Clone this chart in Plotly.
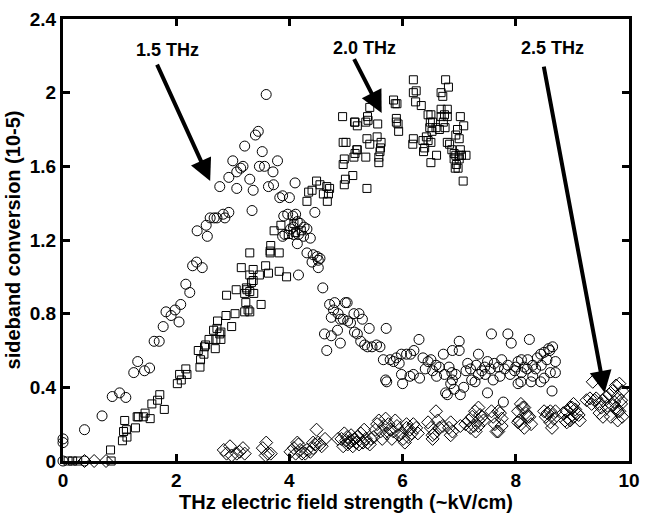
import plotly.graph_objects as go

# ---- data: 1.5 THz (circles) ----
c15 = [
(0,0.0),(0,0.1),(0,0.12),(0.38,0.0),(0.38,0.17),(0.69,0.245),(0.87,0.35),(1.0,0.37),(1.11,0.345),
(1.25,0.48),(1.32,0.54),(1.44,0.49),(1.53,0.505),(1.61,0.65),(1.70,0.65),(1.77,0.73),(1.82,0.81),
(1.91,0.79),(1.98,0.82),(2.05,0.755),(2.08,0.85),(2.17,0.96),(2.24,0.915),(2.29,1.06),(2.36,1.08),(2.46,1.05),
(2.37,1.25),(2.53,1.28),(2.55,1.22),(2.6,1.32),(2.67,1.32),(2.72,1.32),(2.83,1.34),(2.86,1.32),(2.93,1.35),
(2.77,1.49),(2.93,1.54),(3.0,1.63),(3.07,1.57),(3.14,1.59),(3.18,1.6),(3.21,1.71),(3.07,1.48),(3.3,1.53),
(3.36,1.47),(3.4,1.77),(3.45,1.79),(3.52,1.68),(3.47,1.6),(3.56,1.6),(3.59,1.99),(3.71,1.57),(3.79,1.63),
(3.63,1.49),(3.72,1.5),(3.83,1.43),(3.88,1.44),(4.0,1.43),(4.1,1.51),(3.34,1.36),
(3.9,1.33),(3.97,1.34),(4.06,1.33),(4.11,1.34),(4.14,1.3),(4.19,1.29),(4.02,1.26),(4.07,1.27),(4.26,1.27),
(4.31,1.26),(3.88,1.22),(3.92,1.23),(4.07,1.23),(4.16,1.23),(4.25,1.22),(4.37,1.21),(4.14,1.18),(4.31,1.13),
(4.42,1.12),(4.49,1.11),(4.4,1.08),(4.51,1.09),(4.54,1.1),(4.51,1.05),(4.16,1.01),(4.59,0.94),(4.45,1.35),(4.71,0.85),
(4.8,0.86),(4.99,0.86),(4.78,0.82),(4.74,0.78),(4.86,0.8),(4.9,0.77),(4.95,0.77),(5.03,0.76),(5.14,0.8),
(5.23,0.8),(5.29,0.77),(4.62,0.69),(4.74,0.68),(4.85,0.71),(4.9,0.64),(4.66,0.6),(5.15,0.7),(5.2,0.69),
(5.41,0.72),(5.26,0.65),(5.33,0.63),(5.38,0.62),(5.46,0.62),(5.54,0.63),(5.6,0.62),(5.71,0.72),(5.66,0.55),
(5.78,0.55),(5.84,0.54),(5.89,0.56),(5.98,0.58),(6.07,0.58),(6.14,0.58),(5.94,0.53),(5.98,0.47),(5.7,0.44),
(5.72,0.43),(6.0,0.42),(6.13,0.46),(6.19,0.47),(6.29,0.66),(6.36,0.56),(6.45,0.54),(6.5,0.55),(6.59,0.52),
(6.65,0.51),(6.72,0.58),(6.53,0.49),(6.74,0.47),(6.82,0.51),(6.87,0.48),(6.88,0.44),(6.94,0.47),(7.0,0.6),
(6.85,0.42),(6.91,0.39),(6.76,0.37),(6.79,0.36),(7.02,0.36),(7.08,0.4),(7.12,0.49),(7.22,0.44),(7.28,0.43),
(7.34,0.47),(7.4,0.49),(7.46,0.47),(7.57,0.69),(7.5,0.37),(7.78,0.32),(7.86,0.69),(7.92,0.64),(7.69,0.51),
(7.86,0.52),(7.98,0.49),(8.04,0.54),(8.15,0.51),(8.24,0.66),(8.21,0.55),(8.3,0.52),(8.38,0.56),(8.44,0.58),
(8.5,0.59),(8.58,0.61),(8.7,0.54),(8.61,0.48),(8.7,0.48),(8.44,0.43),(8.27,0.43),(8.64,0.38),(7.34,0.58),
(7.6,0.44),(7.72,0.46),(8.04,0.42),(8.09,0.43),(6.88,0.6),(7.0,0.65),(5.08,0.75),(5.02,0.86),
(7.2,0.5),(7.3,0.52),(7.45,0.51),(7.55,0.5),(7.62,0.53),(7.8,0.5),(7.9,0.47),(8.0,0.51),(8.1,0.48),(8.2,0.5),
(8.35,0.5),(8.45,0.52),(8.55,0.55),(8.6,0.6),(8.65,0.62),(7.15,0.53),(7.5,0.54),(7.75,0.55),(8.1,0.55),
(8.3,0.46),(8.5,0.45),(6.2,0.6),(6.4,0.5),(6.6,0.46),(6.3,0.45),
]

# ---- data: 2.0 THz (squares) ----
s20 = [
(0.09,0),(0.17,0),(0.26,0),(0.85,0),(0.84,0.06),(1.05,0.11),(1.07,0.16),(1.09,0.22),(1.13,0.13),(1.12,0.17),
(1.28,0.18),(1.31,0.24),(1.33,0.24),(1.42,0.24),(1.45,0.26),(1.54,0.23),(1.57,0.31),(1.67,0.33),(1.71,0.36),
(1.79,0.28),(2.02,0.42),(2.06,0.47),(2.09,0.44),(2.17,0.5),(2.19,0.47),(2.39,0.6),(2.43,0.55),(2.42,0.51),
(2.49,0.58),(2.5,0.62),(2.52,0.63),(2.58,0.66),(2.66,0.71),(2.69,0.61),(2.7,0.66),(2.77,0.69),(2.79,0.66),
(2.73,0.76),(2.88,0.79),(2.98,0.73),(3.04,0.8),(2.72,0.72),(2.79,0.7),
(2.89,0.9),(3.06,0.93),(3.21,0.91),(3.23,0.86),(3.25,0.93),(3.3,0.92),(3.33,0.97),(3.36,0.98),(3.3,1.01),
(3.27,0.82),(3.3,0.81),(3.5,0.85),(3.21,0.81),(3.24,0.94),(3.37,0.91),
(3.15,1.05),(3.3,1.13),(3.36,1.04),(3.47,1.01),(3.58,1.06),(3.66,1.13),(3.63,1.02),(3.82,1.13),(3.82,1.03),
(3.95,1.0),(3.67,1.17),(3.66,1.14),
(3.85,1.28),(3.73,1.25),(3.98,1.23),(4.11,1.24),(4.08,1.29),(4.21,1.25),
(4.48,1.52),(4.54,1.5),(4.66,1.49),(4.71,1.48),(4.4,1.47),(4.34,1.46),(4.6,1.45),(4.69,1.45),(4.31,1.41),(4.67,1.41),
(4.94,1.87),(4.95,1.73),(5.0,1.73),(4.97,1.64),(4.95,1.61),(5.12,1.55),(4.99,1.53),(4.97,1.5),(5.2,1.69),
(5.16,1.67),(5.14,1.65),(5.15,1.84),(5.2,1.82),(5.16,1.84),
(5.42,1.92),(5.38,1.87),(5.39,1.85),(5.35,1.84),(5.56,1.83),(5.37,1.75),(5.42,1.72),(5.55,1.76),(5.62,1.73),
(5.61,1.7),(5.6,1.68),(5.58,1.65),(5.58,1.62),(5.35,1.65),(5.37,1.48),(5.19,1.69),
(5.84,1.96),(5.87,1.94),(5.9,1.94),(5.89,1.86),(5.89,1.84),(5.92,1.83),(5.93,1.79),
(6.19,2.07),(6.24,2.01),(6.19,2.0),(6.23,1.95),(6.33,1.93),(6.45,1.88),(6.5,1.88),(6.49,1.84),
(6.76,2.07),(6.81,2.03),(6.68,2.0),(6.71,1.98),(6.68,1.91),(6.79,1.91),(6.74,1.88),(6.79,1.87),(6.68,1.87),
(7.02,1.87),(7.08,1.82),(6.97,1.8),(6.94,1.77),(7.0,1.75),
(6.53,1.84),(6.59,1.81),(6.65,1.8),(6.72,1.84),(6.75,1.81),(6.48,1.81),(6.52,1.79),(6.42,1.76),(6.45,1.74),(6.5,1.73),
(6.19,1.75),(6.18,1.72),(6.36,1.74),(6.39,1.7),(6.37,1.68),
(6.79,1.73),(6.83,1.72),(6.87,1.69),(6.91,1.67),(6.94,1.66),(7.02,1.69),(7.0,1.66),(7.04,1.66),(7.12,1.66),
(6.91,1.64),(7.0,1.64),(6.95,1.61),(6.98,1.59),(6.93,1.59),(7.07,1.52),(6.6,1.66),(6.5,1.62),
]

# ---- data: 2.5 THz (diamonds) ----
d25 = [
(0.38,0),(0.55,0),(0.76,0),
(2.84,0.06),(2.89,0.04),(2.95,0.08),(2.98,0.03),(3.07,0.04),(3.12,0.05),(3.18,0.07),(3.21,0.04),
(3.53,0.07),(3.59,0.1),(3.62,0.04),(3.67,0.04),(3.58,0.03),
(4.02,0.05),(4.08,0.07),(4.11,0.04),(4.16,0.09),(4.19,0.06),(4.22,0.04),(4.31,0.06),(4.37,0.05),(4.42,0.07),
(4.48,0.17),(4.45,0.09),(4.51,0.1),(4.57,0.08),(4.63,0.12),(4.14,0.1),(4.28,0.04),(4.42,0.1),(4.54,0.09),
(4.86,0.12),(4.92,0.12),(4.97,0.15),(5.0,0.11),(5.03,0.09),(5.09,0.14),(5.15,0.12),(5.2,0.13),(5.23,0.09),
(5.26,0.15),(5.32,0.17),(5.35,0.12),(5.38,0.1),(5.44,0.12),(5.49,0.13),(5.52,0.17),(5.55,0.2),(5.58,0.22),
(5.61,0.16),(5.64,0.12),(5.67,0.19),(5.7,0.23),(5.72,0.15),(5.75,0.2),(5.78,0.17),(5.81,0.12),(5.84,0.16),
(5.87,0.22),(5.9,0.19),(5.93,0.14),(5.98,0.15),(6.01,0.12),(6.07,0.18),(6.13,0.17),
(4.95,0.08),(5.06,0.1),(5.12,0.08),(5.18,0.1),(5.3,0.1),(5.42,0.09),(5.02,0.13),(5.1,0.11),
(6.07,0.2),(6.1,0.13),(6.16,0.15),(6.19,0.2),(6.24,0.18),(6.04,0.1),(6.27,0.15),
(6.45,0.21),(6.5,0.18),(6.53,0.14),(6.59,0.27),(6.62,0.22),(6.65,0.18),(6.71,0.19),(6.56,0.15),(6.53,0.12),
(6.82,0.18),(6.85,0.21),(6.88,0.16),(6.85,0.14),
(7.02,0.19),(7.11,0.2),(7.17,0.22),(7.23,0.24),(7.28,0.27),(7.34,0.29),(7.37,0.25),(7.43,0.22),(7.2,0.18),
(7.26,0.19),(7.29,0.16),(7.34,0.22),(7.4,0.24),(7.34,0.19),
(7.57,0.27),(7.6,0.24),(7.63,0.2),(7.66,0.16),(7.72,0.26),(7.75,0.23),(7.69,0.27),(7.75,0.19),(7.69,0.16),
(8.04,0.27),(8.09,0.31),(8.15,0.29),(8.21,0.24),(8.06,0.22),(8.12,0.29),(8.18,0.26),(8.04,0.21),(8.09,0.2),
(8.15,0.18),(8.24,0.24),(8.27,0.2),
(8.5,0.27),(8.56,0.26),(8.61,0.27),(8.53,0.24),(8.64,0.25),(8.67,0.23),(8.61,0.21),(8.7,0.27),(8.64,0.18),
(8.84,0.26),(8.9,0.27),(8.96,0.29),(9.02,0.31),(8.87,0.22),(8.93,0.23),(9.05,0.28),(8.99,0.29),(8.9,0.21),
(8.96,0.22),(9.02,0.24),(9.08,0.26),(9.11,0.25),(9.13,0.22),
(9.25,0.33),(9.36,0.43),(9.34,0.31),(9.42,0.34),(9.48,0.31),(9.54,0.33),(9.6,0.35),(9.65,0.36),(9.71,0.38),
(9.77,0.41),(9.83,0.42),(9.88,0.38),(9.86,0.31),(9.8,0.27),(9.31,0.34),(9.39,0.33),(9.51,0.29),(9.62,0.3),
(9.48,0.26),(9.54,0.24),(9.8,0.35),(9.86,0.33),(9.77,0.29),(9.83,0.27),(9.71,0.3),(9.88,0.24),(9.8,0.22),
(9.68,0.24),(9.74,0.32),
]

labels = ["1.5 THz", "2.0 THz", "2.5 THz"]
label_pos = [(1.85, 2.23), (5.32, 2.245), (8.65, 2.245)]
arrow_tail = [(1.65, 2.16), (5.13, 2.19), (8.49, 2.15)]
arrow_tip = [(2.6, 1.52), (5.63, 1.89), (9.57, 0.37)]

x_ticks = [0, 2, 4, 6, 8, 10]
y_ticks = [0, 0.4, 0.8, 1.2, 1.6, 2.0, 2.4]
y_ticktext = ["0", "0.4", "0.8", "1.2", "1.6", "2", "2.4"]

FONT = "Liberation Sans, Arial, Helvetica, sans-serif"

fig = go.Figure()
for pts, sym, size in [(c15, "circle-open", 10), (s20, "square-open", 8), (d25, "diamond-open", 10)]:
    fig.add_trace(go.Scatter(
        x=[p[0] for p in pts], y=[p[1] for p in pts], mode="markers",
        marker=dict(symbol=sym, size=size, color="black", line=dict(width=1, color="black")),
        cliponaxis=False, showlegend=False, hoverinfo="skip"))

for txt, (lx, ly), (tx, ty), (hx, hy) in zip(labels, label_pos, arrow_tail, arrow_tip):
    fig.add_annotation(x=lx, y=ly, text="<b>" + txt + "</b>", showarrow=False,
                       font=dict(family=FONT, size=18, color="black"))
    fig.add_annotation(x=hx, y=hy, ax=tx, ay=ty, axref="x", ayref="y", xref="x", yref="y",
                       text="", showarrow=True, arrowhead=2, arrowsize=1.1, arrowwidth=4,
                       arrowcolor="black")

axis_common = dict(showline=True, linewidth=3, linecolor="black", mirror="ticks",
                   ticks="inside", ticklen=7, tickwidth=3, tickcolor="black",
                   showgrid=False, zeroline=False,
                   tickfont=dict(family=FONT, size=19, color="black", weight="bold"))

fig.update_xaxes(range=[0, 10], tickvals=x_ticks, ticktext=[str(v) for v in x_ticks],
                 title=dict(text="<b>THz electric field strength (~kV/cm)</b>",
                            font=dict(family=FONT, size=20, color="black"), standoff=6),
                 **axis_common)
fig.update_yaxes(range=[0, 2.4], tickvals=y_ticks, ticktext=y_ticktext,
                 title=dict(text="<b>sideband conversion (10-5)</b>",
                            font=dict(family=FONT, size=20, color="black"), standoff=4),
                 **axis_common)

fig.update_layout(width=649, height=520, margin=dict(l=63, r=9, t=14, b=55),
                  paper_bgcolor="white", plot_bgcolor="white")

fig.write_html("out.html")
